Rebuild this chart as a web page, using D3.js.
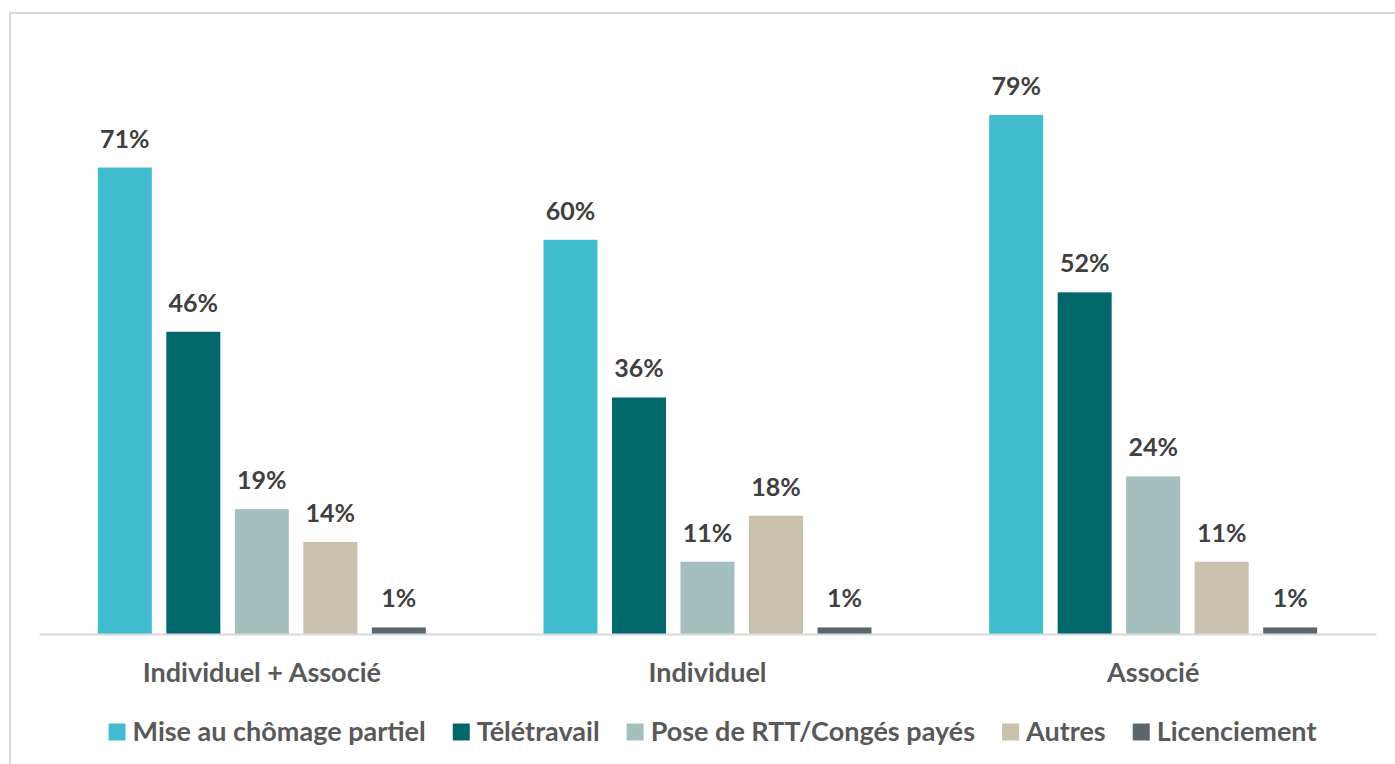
<!DOCTYPE html>
<html>
<head>
<meta charset="utf-8">
<script src="https://cdn.jsdelivr.net/npm/d3@7"></script>
<style>
  body { margin: 0; background: #fff; }
  text { font-family: Lato, "Open Sans", sans-serif; font-weight: bold; }
</style>
</head>
<body>
<div id="chart"></div>
<script>
// Data
const groups = ["Individuel + Associé", "Individuel", "Associé"];
const series = ["Mise au chômage partiel", "Télétravail", "Pose de RTT/Congés payés", "Autres", "Licenciement"];
const chomage = [71, 60, 79];
const teletravail = [46, 36, 52];
const rttConges = [19, 11, 24];
const autres = [14, 18, 11];
const licenciement = [1, 1, 1];
const colors = ["#40BCCE", "#00686B", "#A5BFBF", "#C9C0AE", "#5B666C"];

const values = [chomage, teletravail, rttConges, autres, licenciement];

const W = 1395, H = 764;
const svg = d3.select("#chart").append("svg")
    .attr("width", W)
    .attr("height", H);

// Outer frame
svg.append("rect")
    .attr("x", 10).attr("y", 13)
    .attr("width", W).attr("height", H)
    .attr("fill", "none")
    .attr("stroke", "#d9d9d9")
    .attr("stroke-width", 2);

// Scales
const x0 = d3.scaleBand().domain(groups).range([39, 1376]);
const x1 = d3.scaleBand().domain(series).range([0, x0.bandwidth()])
    .paddingInner(0.212).paddingOuter(0.859);
const y = d3.scaleLinear().domain([0, 80]).range([634, 108.4]);

// Bars
const g = svg.selectAll("g.group")
    .data(groups)
    .enter().append("g")
    .attr("class", "group")
    .attr("transform", d => `translate(${x0(d)},0)`);

g.selectAll("rect")
    .data((d, gi) => series.map((s, si) => ({s, si, v: values[si][gi]})))
    .enter().append("rect")
    .attr("x", d => x1(d.s))
    .attr("y", d => y(d.v))
    .attr("width", x1.bandwidth())
    .attr("height", d => y(0) - y(d.v))
    .attr("fill", d => colors[d.si]);

// Value labels
g.selectAll("text.val")
    .data((d, gi) => series.map((s, si) => ({s, si, v: values[si][gi]})))
    .enter().append("text")
    .attr("class", "val")
    .attr("x", d => x1(d.s) + x1.bandwidth() / 2)
    .attr("y", d => y(d.v) - 20)
    .attr("text-anchor", "middle")
    .attr("fill", "#404040")
    .style("font-size", "25px")
    .text(d => d.v + "%");

// X axis
const xAxis = svg.append("g")
    .attr("transform", `translate(0,${y(0)})`)
    .call(d3.axisBottom(x0).tickSize(0).tickPadding(29));
xAxis.select(".domain").attr("stroke", "#d9d9d9").attr("stroke-width", 2);
xAxis.selectAll("text")
    .attr("fill", "#595959")
    .style("font-size", "27px")
    .style("font-family", "Lato, 'Open Sans', sans-serif")
    .style("font-weight", "bold");

// Legend
const legend = svg.append("g").attr("transform", "translate(0,732)");
const items = legend.selectAll("g")
    .data(series)
    .enter().append("g");
items.append("rect")
    .attr("width", 17).attr("height", 17)
    .attr("y", -8.5)
    .attr("fill", (d, i) => colors[i]);
items.append("text")
    .attr("x", 24)
    .attr("dy", "0.35em")
    .attr("fill", "#595959")
    .style("font-size", "27px")
    .text(d => d);

let cx = 0;
const offsets = [];
items.each(function() {
    offsets.push(cx);
    const w = this.querySelector("text").getComputedTextLength();
    cx += 24 + w + 27;
});
const total = cx - 27;
const start = 712.5 - total / 2;
items.attr("transform", (d, i) => `translate(${start + offsets[i]},0)`);
</script>
</body>
</html>
